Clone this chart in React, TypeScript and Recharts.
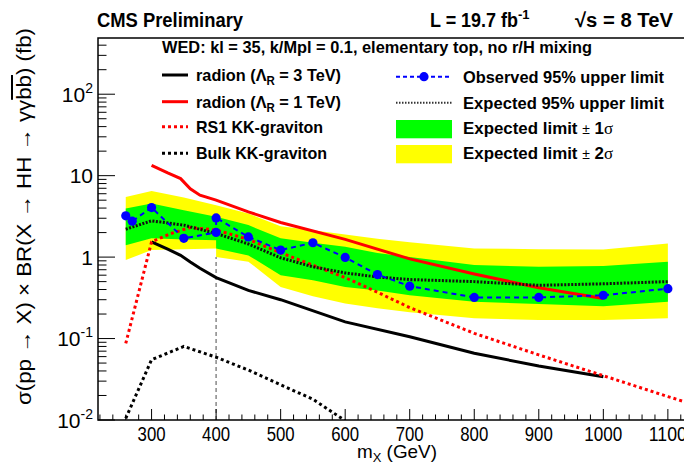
import { Area, ComposedChart, Line, ReferenceLine, XAxis, YAxis } from "recharts";

// expected limit bands (two points at 400 GeV: low-mass / high-mass analysis)
const bandMass = [260, 300, 350, 400, 400, 450, 500, 550, 600, 650, 700, 800, 900, 1000, 1100];
const twoSigmaLow = [0.92, 1.22, 1.25, 1.28, 1.0, 0.88, 0.43, 0.33, 0.27, 0.235, 0.21, 0.177, 0.169, 0.169, 0.177];
const twoSigmaHigh = [5.48, 6.5, 5.4, 4.34, 4.34, 3.43, 2.4, 2.14, 1.9, 1.68, 1.52, 1.28, 1.25, 1.24, 1.47];
const oneSigmaLow = [1.4, 1.7, 1.65, 1.61, 1.28, 1.05, 0.6, 0.52, 0.43, 0.39, 0.34, 0.283, 0.265, 0.25, 0.283];
const oneSigmaHigh = [3.95, 4.55, 3.77, 3.12, 3.12, 2.47, 1.7, 1.5, 1.34, 1.12, 1.0, 0.8, 0.76, 0.775, 0.875];

const expectedMass = [260, 300, 350, 400, 450, 500, 550, 600, 650, 700, 800, 900, 1000, 1100];
const expectedLimit = [2.2, 2.79, 2.47, 1.95, 1.45, 0.98, 0.76, 0.64, 0.57, 0.53, 0.5, 0.45, 0.47, 0.5];

const observedMass = [260, 270, 300, 350, 400, 400, 450, 500, 550, 600, 650, 700, 800, 900, 1000, 1100];
const observedLimit = [3.21, 2.76, 4.06, 1.7, 2.01, 3.03, 1.77, 1.22, 1.5, 0.99, 0.61, 0.44, 0.32, 0.32, 0.34, 0.41];

const radionMass = [300, 325, 345, 360, 375, 400, 450, 500, 600, 700, 800, 900, 1000];
const radion1TeV = [13.4, 10.8, 9.2, 6.9, 5.75, 5.0, 3.59, 2.66, 1.65, 0.95, 0.62, 0.42, 0.31];
const radion3TeV = [1.54, 1.25, 1.05, 0.87, 0.73, 0.56, 0.39, 0.3, 0.16, 0.105, 0.066, 0.046, 0.034];

const rs1Mass = [260, 300, 330, 360, 400, 450, 500, 600, 650, 700, 800, 900, 1000, 1100, 1200];
const rs1Graviton = [0.087, 1.54, 1.95, 2.31, 2.15, 1.65, 1.13, 0.56, 0.37, 0.24, 0.116, 0.063, 0.035, 0.0194, 0.011];

const bulkMass = [260, 300, 350, 400, 450, 500, 550, 600];
const bulkGraviton = [0.0105, 0.055, 0.08, 0.059, 0.041, 0.027, 0.018, 0.0098];

const xMajor = [300, 400, 500, 600, 700, 800, 900, 1000, 1100];
const xMinorStart = 220;
const xMinorEnd = 1120;
const yMajor = [0.01, 0.1, 1, 10, 100];
const yMajorBase = ["10", "10", "1", "10", "10"];
const yMajorSup = ["-2", "-1", "", "", "2"];
const yMinorSteps = [2, 3, 4, 5, 6, 7, 8, 9];

const W = 684;
const H = 464;
const PLOT_LEFT = 98;
const PLOT_TOP = 38;
const PLOT_BOTTOM = 420;
const X_MIN = 217;
const X_MAX = 1125;
const Y_MIN = 0.01;
const Y_MAX = 490;
const SANS = '"Liberation Sans", Arial, Helvetica, sans-serif';

const bandRows = bandMass.map((m, i) => ({
  m,
  two: [twoSigmaLow[i], twoSigmaHigh[i]],
  one: [oneSigmaLow[i], oneSigmaHigh[i]]
}));
const toRows = (ms: number[], vs: number[]) => ms.map((m, i) => ({ m, v: vs[i] }));
const expectedRows = toRows(expectedMass, expectedLimit);
const observedRows = toRows(observedMass, observedLimit);
const radion1Rows = toRows(radionMass, radion1TeV);
const radion3Rows = toRows(radionMass, radion3TeV);
const rs1Rows = toRows(rs1Mass, rs1Graviton);
const bulkRows = toRows(bulkMass, bulkGraviton);

const xTicks: number[] = [];
for (let m = xMinorStart; m <= xMinorEnd; m += 20) xTicks.push(m);
const yTicks = yMajor
  .flatMap((d) => [d, ...yMinorSteps.map((s) => s * d)])
  .filter((v) => v <= Y_MAX);

function XTick(props: any) {
  const { x, payload } = props;
  const major = xMajor.includes(payload.value);
  const label = String(payload.value);
  return (
    <g>
      <line x1={x} x2={x} y1={PLOT_BOTTOM} y2={PLOT_BOTTOM - (major ? 11 : 5.5)} stroke="#000" strokeWidth={1} />
      {major && (
        <text
          x={x}
          y={441}
          textAnchor="middle"
          fontFamily={SANS}
          fontSize={20}
          textLength={label.length === 4 ? 38 : 28}
          lengthAdjust="spacingAndGlyphs"
        >
          {label}
        </text>
      )}
    </g>
  );
}

function YTick(props: any) {
  const { y, payload } = props;
  const v = payload.value;
  const idx = yMajor.findIndex((d) => Math.abs(d - v) / d < 1e-6);
  const major = idx >= 0;
  return (
    <g>
      <line x1={PLOT_LEFT} x2={PLOT_LEFT + (major ? 17 : 8.5)} y1={y} y2={y} stroke="#000" strokeWidth={1} />
      {major && (
        <text x={93} y={y + 7.5} textAnchor="end" fontFamily={SANS} fontSize={21}>
          {yMajorBase[idx]}
          {yMajorSup[idx] && (
            <tspan fontSize={14} dy={-9}>
              {yMajorSup[idx]}
            </tspan>
          )}
        </text>
      )}
    </g>
  );
}

function ObsDot(props: any) {
  const { cx, cy, index } = props;
  return <circle key={`obs-${index}`} cx={cx} cy={cy} r={4.6} fill="#0000ff" />;
}

function Overlay() {
  const bold = { fontFamily: SANS, fontWeight: 700 as const };
  const la = "spacingAndGlyphs";
  return (
    <svg width={W} height={H} style={{ position: "absolute", left: 0, top: 0, pointerEvents: "none" }}>
      {/* frame */}
      <path d={`M${W} ${PLOT_TOP} H${PLOT_LEFT} V${PLOT_BOTTOM} H${W}`} fill="none" stroke="#000" strokeWidth={1.5} />

      {/* header */}
      <text x={97} y={27} fontSize={20} textLength={146} lengthAdjust={la} {...bold}>
        CMS Preliminary
      </text>
      <text x={430} y={27} fontSize={20} {...bold}>
        <tspan textLength={88} lengthAdjust={la}>L = 19.7 fb</tspan>
        <tspan fontSize={13} dy={-8}>-1</tspan>
      </text>
      <text x={575} y={27} fontSize={20} textLength={98} lengthAdjust={la} {...bold}>
        √s = 8 TeV
      </text>
      <text x={162} y={53} fontSize={17} textLength={430} lengthAdjust={la} {...bold}>
        WED: kl = 35, k/Mpl = 0.1, elementary top, no r/H mixing
      </text>

      {/* legend, left column */}
      <line x1={162} x2={188} y1={75} y2={75} stroke="#000" strokeWidth={3} />
      <line x1={162} x2={188} y1={101.7} y2={101.7} stroke="#ff0000" strokeWidth={3} />
      <line x1={162} x2={188} y1={126.7} y2={126.7} stroke="#ff0000" strokeWidth={3} strokeDasharray="3 3" />
      <line x1={162} x2={188} y1={153.3} y2={153.3} stroke="#000" strokeWidth={3} strokeDasharray="3 3" />
      <text x={196} y={81} fontSize={17} textLength={145} lengthAdjust={la} {...bold}>
        radion (Λ<tspan fontSize={12} dy={4}>R</tspan>
        <tspan dy={-4}> = 3 TeV)</tspan>
      </text>
      <text x={196} y={107.7} fontSize={17} textLength={145} lengthAdjust={la} {...bold}>
        radion (Λ<tspan fontSize={12} dy={4}>R</tspan>
        <tspan dy={-4}> = 1 TeV)</tspan>
      </text>
      <text x={196} y={132.7} fontSize={17} textLength={127} lengthAdjust={la} {...bold}>
        RS1 KK-graviton
      </text>
      <text x={196} y={159.3} fontSize={17} textLength={131} lengthAdjust={la} {...bold}>
        Bulk KK-graviton
      </text>

      {/* legend, right column */}
      <line x1={396} x2={452} y1={76.7} y2={76.7} stroke="#0000ff" strokeWidth={2} strokeDasharray="4 3" />
      <circle cx={424} cy={76.7} r={4.6} fill="#0000ff" />
      <line x1={396} x2={452} y1={102.7} y2={102.7} stroke="#333" strokeWidth={2} strokeDasharray="1.5 1.5" />
      <rect x={396} y={120} width={56} height={18.3} fill="#00ff00" />
      <rect x={396} y={145} width={56} height={18.3} fill="#ffff00" />
      <text x={463} y={82.7} fontSize={17} textLength={201} lengthAdjust={la} {...bold}>
        Observed 95% upper limit
      </text>
      <text x={463} y={108.7} fontSize={17} textLength={201} lengthAdjust={la} {...bold}>
        Expected 95% upper limit
      </text>
      <text x={463} y={134.3} fontSize={17} textLength={150} lengthAdjust={la} {...bold}>
        Expected limit <tspan fontWeight={400} fontSize={14}>±</tspan> 1
        <tspan fontFamily="'Liberation Serif', serif" fontWeight={400}>σ</tspan>
      </text>
      <text x={463} y={159.3} fontSize={17} textLength={150} lengthAdjust={la} {...bold}>
        Expected limit <tspan fontWeight={400} fontSize={14}>±</tspan> 2
        <tspan fontFamily="'Liberation Serif', serif" fontWeight={400}>σ</tspan>
      </text>

      {/* axis titles */}
      <text
        x={0}
        y={0}
        transform="translate(31 216.5) rotate(-90)"
        textAnchor="middle"
        fontFamily={SANS}
        fontSize={20}
        textLength={377}
        lengthAdjust={la}
      >
        σ(pp → X) × BR(X → HH → γγ<tspan style={{ textDecoration: "overline" }}>bb</tspan>) (fb)
      </text>
      <text x={357} y={458} fontFamily={SANS} fontSize={19} textLength={80} lengthAdjust={la}>
        m<tspan fontSize={13} dy={4}>X</tspan>
        <tspan dy={-4}> (GeV)</tspan>
      </text>
    </svg>
  );
}

export default function App() {
  return (
    <div style={{ position: "absolute", left: 0, top: 0, width: W, height: H, background: "#fff" }}>
      <ComposedChart width={W} height={H} margin={{ top: PLOT_TOP, right: 0, bottom: 0, left: 0 }}>
        <XAxis
          dataKey="m"
          type="number"
          domain={[X_MIN, X_MAX]}
          allowDataOverflow
          ticks={xTicks}
          interval={0}
          tick={<XTick />}
          tickLine={false}
          axisLine={false}
          height={44}
        />
        <YAxis
          type="number"
          scale="log"
          domain={[Y_MIN, Y_MAX]}
          allowDataOverflow
          ticks={yTicks}
          interval={0}
          tick={<YTick />}
          tickLine={false}
          axisLine={false}
          width={98}
        />
        <Area data={bandRows} dataKey="two" type="linear" fill="#ffff00" fillOpacity={1} stroke="none" isAnimationActive={false} activeDot={false} />
        <Area data={bandRows} dataKey="one" type="linear" fill="#00ff00" fillOpacity={1} stroke="none" isAnimationActive={false} activeDot={false} />
        <ReferenceLine
          segment={[
            { x: 400, y: Y_MIN },
            { x: 400, y: 1.0 }
          ]}
          stroke="#888"
          strokeWidth={1.5}
          strokeDasharray="4 3"
        />
        <Line data={radion3Rows} dataKey="v" type="linear" stroke="#000" strokeWidth={3} dot={false} activeDot={false} isAnimationActive={false} />
        <Line data={radion1Rows} dataKey="v" type="linear" stroke="#ff0000" strokeWidth={3} dot={false} activeDot={false} isAnimationActive={false} />
        <Line data={rs1Rows} dataKey="v" type="linear" stroke="#ff0000" strokeWidth={3} strokeDasharray="3 3" dot={false} activeDot={false} isAnimationActive={false} />
        <Line data={bulkRows} dataKey="v" type="linear" stroke="#000" strokeWidth={3} strokeDasharray="3 3" dot={false} activeDot={false} isAnimationActive={false} />
        <Line data={expectedRows} dataKey="v" type="linear" stroke="#111" strokeWidth={3} strokeDasharray="2 1.5" dot={false} activeDot={false} isAnimationActive={false} />
        <Line data={observedRows} dataKey="v" type="linear" stroke="#0000ff" strokeWidth={2} strokeDasharray="5 4" dot={<ObsDot />} activeDot={false} isAnimationActive={false} />
      </ComposedChart>
      <Overlay />
    </div>
  );
}
